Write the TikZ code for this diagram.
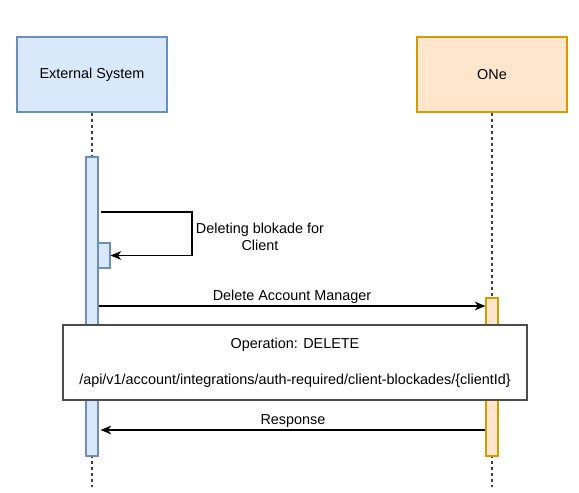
\documentclass[tikz,border=0pt]{standalone}
\usepackage{fontspec}
\setmainfont{Liberation Sans}
\usetikzlibrary{arrows.meta,positioning}
\definecolor{esfill}{HTML}{DAE8FC}
\definecolor{esline}{HTML}{6C8EBF}
\definecolor{onefill}{HTML}{FFE6CC}
\definecolor{oneline}{HTML}{D79B00}
\definecolor{noteline}{HTML}{4D4D4D}
\begin{document}
\begin{tikzpicture}[x=0.75pt,y=-0.75pt,line width=0.8pt,
        font=\fontsize{10.8}{13}\selectfont,
        head/.style={draw,rectangle,minimum width=112.5pt,minimum height=56.25pt,inner sep=0pt},
        bar/.style={draw,rectangle,minimum width=9pt,inner sep=0pt},
        lifeline/.style={draw=black!75,dash pattern=on 2.25pt off 2.25pt},
        msg/.style={-{Stealth[length=8pt,width=6.5pt,inset=2.4pt]}}]
        \useasboundingbox (0,0) rectangle (579,493);
        % actors
        \node[head,fill=esfill,draw=esline] at (92,74.5) (es) {External System};
        \node[head,fill=onefill,draw=oneline] at (492,74.5) (one) {ONe};
        \coordinate (bottom) at (0,487);
        \draw[lifeline] (es.south) -- (es.south |- bottom);
        \draw[lifeline] (one.south) -- (one.south |- bottom);
        % activations
        \node[bar,fill=esfill,draw=esline,minimum height=224.25pt] at (92,306.5) (esact) {};
        \node[bar,fill=esfill,draw=esline,minimum height=18.75pt] at (104,255.5) (subact) {};
        \node[bar,fill=onefill,draw=oneline,minimum height=118.5pt] at (492,377) (oneact) {};
        % messages
        \coordinate (self) at (192,212);
        \coordinate (m1) at (0,306);
        \coordinate (m3) at (0,430);
        \draw[msg] ([xshift=1.5pt]esact.east |- self) -- (self) |- (subact.east);
        \node[align=center] at (260,237) (selflabel) {Deleting blokade for\\Client};
        \draw[msg] (esact.east |- m1) -- node[above=-1.5pt] {Delete Account Manager} (oneact.west |- m1);
        \node[draw=noteline,fill=white,minimum width=348pt,minimum height=56.25pt,align=center]
        at (295,362.5) (note) {Operation: DELETE\\[14pt]/api/v1/account/integrations/auth-required/client-blockades/\{clientId\}};
        \draw[msg] (oneact.west |- m3) -- node[above=-2pt] {Response} ([xshift=1.5pt]esact.east |- m3);
\end{tikzpicture}
\end{document}
